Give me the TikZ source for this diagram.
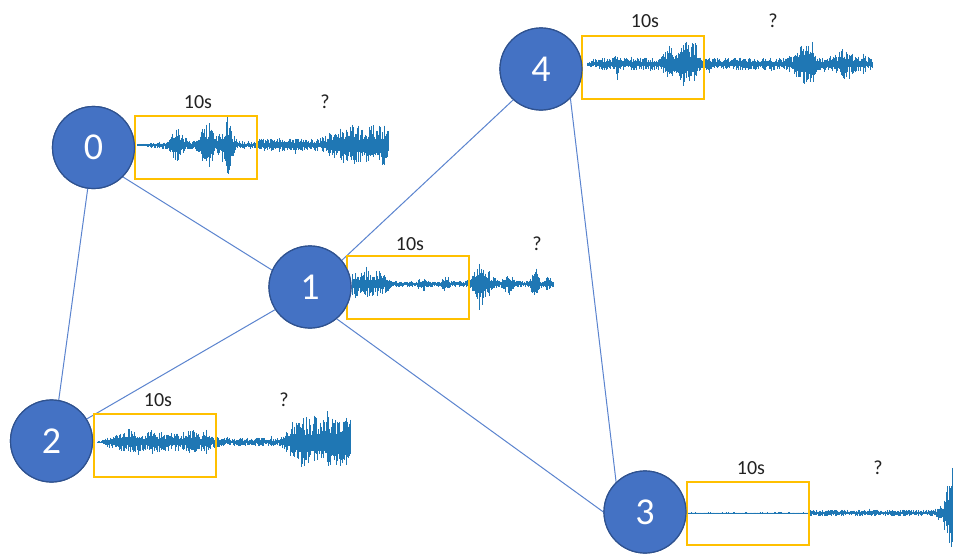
\documentclass[tikz,border=0pt]{standalone}
\usepackage{fontspec}
\setmainfont{Carlito}
\definecolor{nodefill}{HTML}{4472C4}
\definecolor{nodeline}{HTML}{2F528F}
\definecolor{edgec}{HTML}{5B84CF}
\definecolor{boxc}{HTML}{FFC000}
\definecolor{wavec}{HTML}{1F77B4}
\definecolor{txtc}{HTML}{222222}

\tikzset{
  declare function={
    bump(\x,\y,\z)=exp(-(min(abs((\x-\y)/\z),5))^2);
    ramp(\x,\y,\z)=min(1,max(0,(\x-\y)/(\z-\y)));
  },
  vtx/.style={circle, fill=nodefill, draw=nodeline, line width=1.2pt,
    minimum size=82pt, inner sep=0pt, text=white,
    font=\fontsize{38}{40}\selectfont},
  link/.style={draw=edgec, line width=1pt},
  window/.style={draw=boxc, line width=2pt, minimum width=122pt,
    minimum height=63pt, inner sep=0pt},
  lbl/.style={text=txtc, inner sep=0pt, font=\fontsize{20}{23}\selectfont},
  wave/.style={draw=wavec, line width=0.65pt},
}

% waveform: #1 start x, #2 end x, #3 baseline y, #4 envelope of \wx
\newcommand\drawwave[4]{%
  \pgfmathtruncatemacro\nsteps{(#2-#1)/0.5}%
  \foreach \k in {0,...,\nsteps}{%
    \pgfmathsetmacro\wx{#1+0.5*\k}%
    \pgfmathsetmacro\amp{#4}%
    \pgfmathsetmacro\spk{rnd>0.96?1.4:1}%
    \pgfmathsetmacro\ra{rnd}%
    \pgfmathsetmacro\rb{rnd}%
    \pgfmathsetmacro\up{\amp*\spk*(0.3+0.85*\ra*\ra)}%
    \pgfmathsetmacro\dn{\amp*\spk*(0.3+0.85*\rb*\rb)}%
    \draw[wave] (\wx,#3-\up) -- (\wx,#3+\dn);
  }%
}

\begin{document}
\begin{tikzpicture}[x=1pt,y=-1pt]
\fill[white] (0,0) rectangle (953,554);
\useasboundingbox (0,0) rectangle (953,554);
\pgfmathsetseed{4217}

% sensor nodes
\node[vtx] (n0) at (93.5,147.5) {0};
\node[vtx] (n1) at (310,287) {1};
\node[vtx] (n2) at (51.5,441) {2};
\node[vtx] (n3) at (645,512) {3};
\node[vtx] (n4) at (541,69) {4};

% links between sensors
\path[link] (n0.-45) -- (n1.156);
\path[link] (n0.-98) -- (n2.80);
\path[link] (n1.213) -- (n2.32);
\path[link] (n1.40) -- (n4.228);
\path[link] (n1.-50) -- (n3.180);
\path[link] (n4.-45) -- (n3.134);

% recorded signals
\begin{scope}
\clip (0,0) rectangle (953,554);
\drawwave{137}{388}{145}{1 + 2.5*ramp(\wx,145,160) + 13*bump(\wx,177,6) + 13*bump(\wx,205,6) + 8*bump(\wx,212,3) + 19*bump(\wx,226,7) + 10*bump(\wx,228,1.5) + (\wx>256)*(2 + 12*ramp(\wx,318,345))}
\drawwave{352}{553}{284}{2.5 + 9*(1-ramp(\wx,378,396)) + 4*bump(\wx,423,4) + 4*bump(\wx,445,4) + 18*bump(\wx,482,9) + 8*bump(\wx,508,6) + 13*bump(\wx,535,4) + 5*bump(\wx,548,4)}
\drawwave{97}{350}{442}{1 + 7.5*ramp(\wx,100,118)*(1-ramp(\wx,210,220)) + 3*bump(\wx,130,4) + 3*bump(\wx,153,4) + 3*bump(\wx,192,4) + (\wx>215)*(2.8 + 18*ramp(\wx,280,300))}
\drawwave{587}{872}{64}{1.5 + 4*ramp(\wx,587,600) + 10*bump(\wx,617,1.5) + 12*bump(\wx,668,5) + 15*bump(\wx,685,6) + 21*bump(\wx,694,2.5) + 12*bump(\wx,803,8) + 11*bump(\wx,812,3) + 6*bump(\wx,843,5) + 2.5*ramp(\wx,820,830)*(1-ramp(\wx,862,872))}
\drawwave{687}{953}{513}{0.5 + (\wx>809)*2.3 + 45*bump(\wx,955,10)}
\end{scope}

% 10-second observation windows
\node[window] (b0) at (195.5,147) {};
\node[window] (b1) at (407.5,287) {};
\node[window] (b2) at (154.5,445.5) {};
\node[window] (b3) at (748,513) {};
\node[window] (b4) at (642.5,67) {};

% nodes stay above the links
\node[vtx] at (n0) {0};
\node[vtx] at (n1) {1};
\node[vtx] at (n2) {2};
\node[vtx] at (n3) {3};
\node[vtx] at (n4) {4};

% labels
\node[lbl] (t0) at (198,102) {10s};
\node[lbl] (q0) at (325,102) {?};
\node[lbl] (t1) at (410,244) {10s};
\node[lbl] (q1) at (537,244) {?};
\node[lbl] (t2) at (158,400) {10s};
\node[lbl] (q2) at (284,400) {?};
\node[lbl] (t3) at (751,468) {10s};
\node[lbl] (q3) at (878,468) {?};
\node[lbl] (t4) at (645,21) {10s};
\node[lbl] (q4) at (773,21) {?};
\end{tikzpicture}
\end{document}
